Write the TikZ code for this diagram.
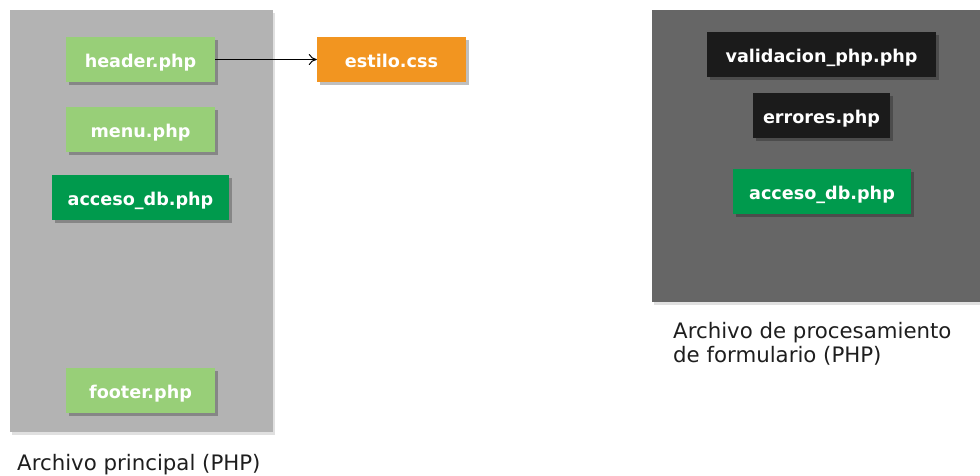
\documentclass[tikz,border=0pt]{standalone}
\usepackage{fontspec}
\setmainfont{DejaVu Sans}
\usetikzlibrary{arrows.meta,shadows}
\definecolor{panelL}{HTML}{B3B3B3}
\definecolor{panelR}{HTML}{666666}
\definecolor{lgreen}{HTML}{98CF78}
\definecolor{dgreen}{HTML}{009A4D}
\definecolor{orangeC}{HTML}{F29520}
\definecolor{blackC}{HTML}{1B1B1B}
\definecolor{labelC}{HTML}{1E1E1E}
\tikzset{
  panel/.style={draw=none, inner sep=0pt, minimum width=#1,
    drop shadow={shadow xshift=2pt, shadow yshift=-3pt, fill=black, opacity=.12}},
  filebox/.style={draw=none, inner sep=0pt, minimum height=45pt, minimum width=#1,
    text=white, font=\bfseries\fontsize{17.6}{20}\selectfont,
    text height=15pt, text depth=0pt,
    drop shadow={shadow xshift=3pt, shadow yshift=-3pt, fill=black, opacity=.25}},
  caption/.style={anchor=base west, align=left, text=labelC,
    font=\fontsize{21.3}{24}\selectfont, inner sep=0pt},
  link/.style={draw=black, line width=1pt, -{To[length=8pt,width=11pt]}}
}
\begin{document}
\begin{tikzpicture}[x=1pt,y=-1pt]
\useasboundingbox (0,0) rectangle (980,475);
% containers
\node[panel=263pt, minimum height=422pt, fill=panelL] (main) at (141.5,221) {};
\node[panel=340pt, minimum height=292pt, fill=panelR] (proc) at (822,156) {};
% files of the main page
\node[filebox=149pt, fill=lgreen] (header) at (140.5,59.5) {header.php};
\node[filebox=149pt, fill=lgreen] (menu) at (140.5,129.5) {menu.php};
\node[filebox=177pt, fill=dgreen] (accL) at (140.5,197.5) {acceso\_db.php};
\node[filebox=149pt, fill=lgreen] (footer) at (140.5,390.5) {footer.php};
% stylesheet
\node[filebox=149pt, fill=orangeC] (css) at (391.5,59.5) {estilo.css};
% files of the form handler
\node[filebox=229pt, fill=blackC] (valid) at (821.5,54.5) {validacion\_php.php};
\node[filebox=137pt, fill=blackC] (err) at (821.5,115.5) {errores.php};
\node[filebox=178pt, fill=dgreen] (accR) at (822,191.5) {acceso\_db.php};
% connector
\draw[link] (header) -- (css);
% captions (base anchor sits on the last line)
\node[caption] (capL) at (17,470) {Archivo principal (PHP)};
\node[caption] (capR) at (673,362) {Archivo de procesamiento\\de formulario (PHP)};
\end{tikzpicture}
\end{document}
